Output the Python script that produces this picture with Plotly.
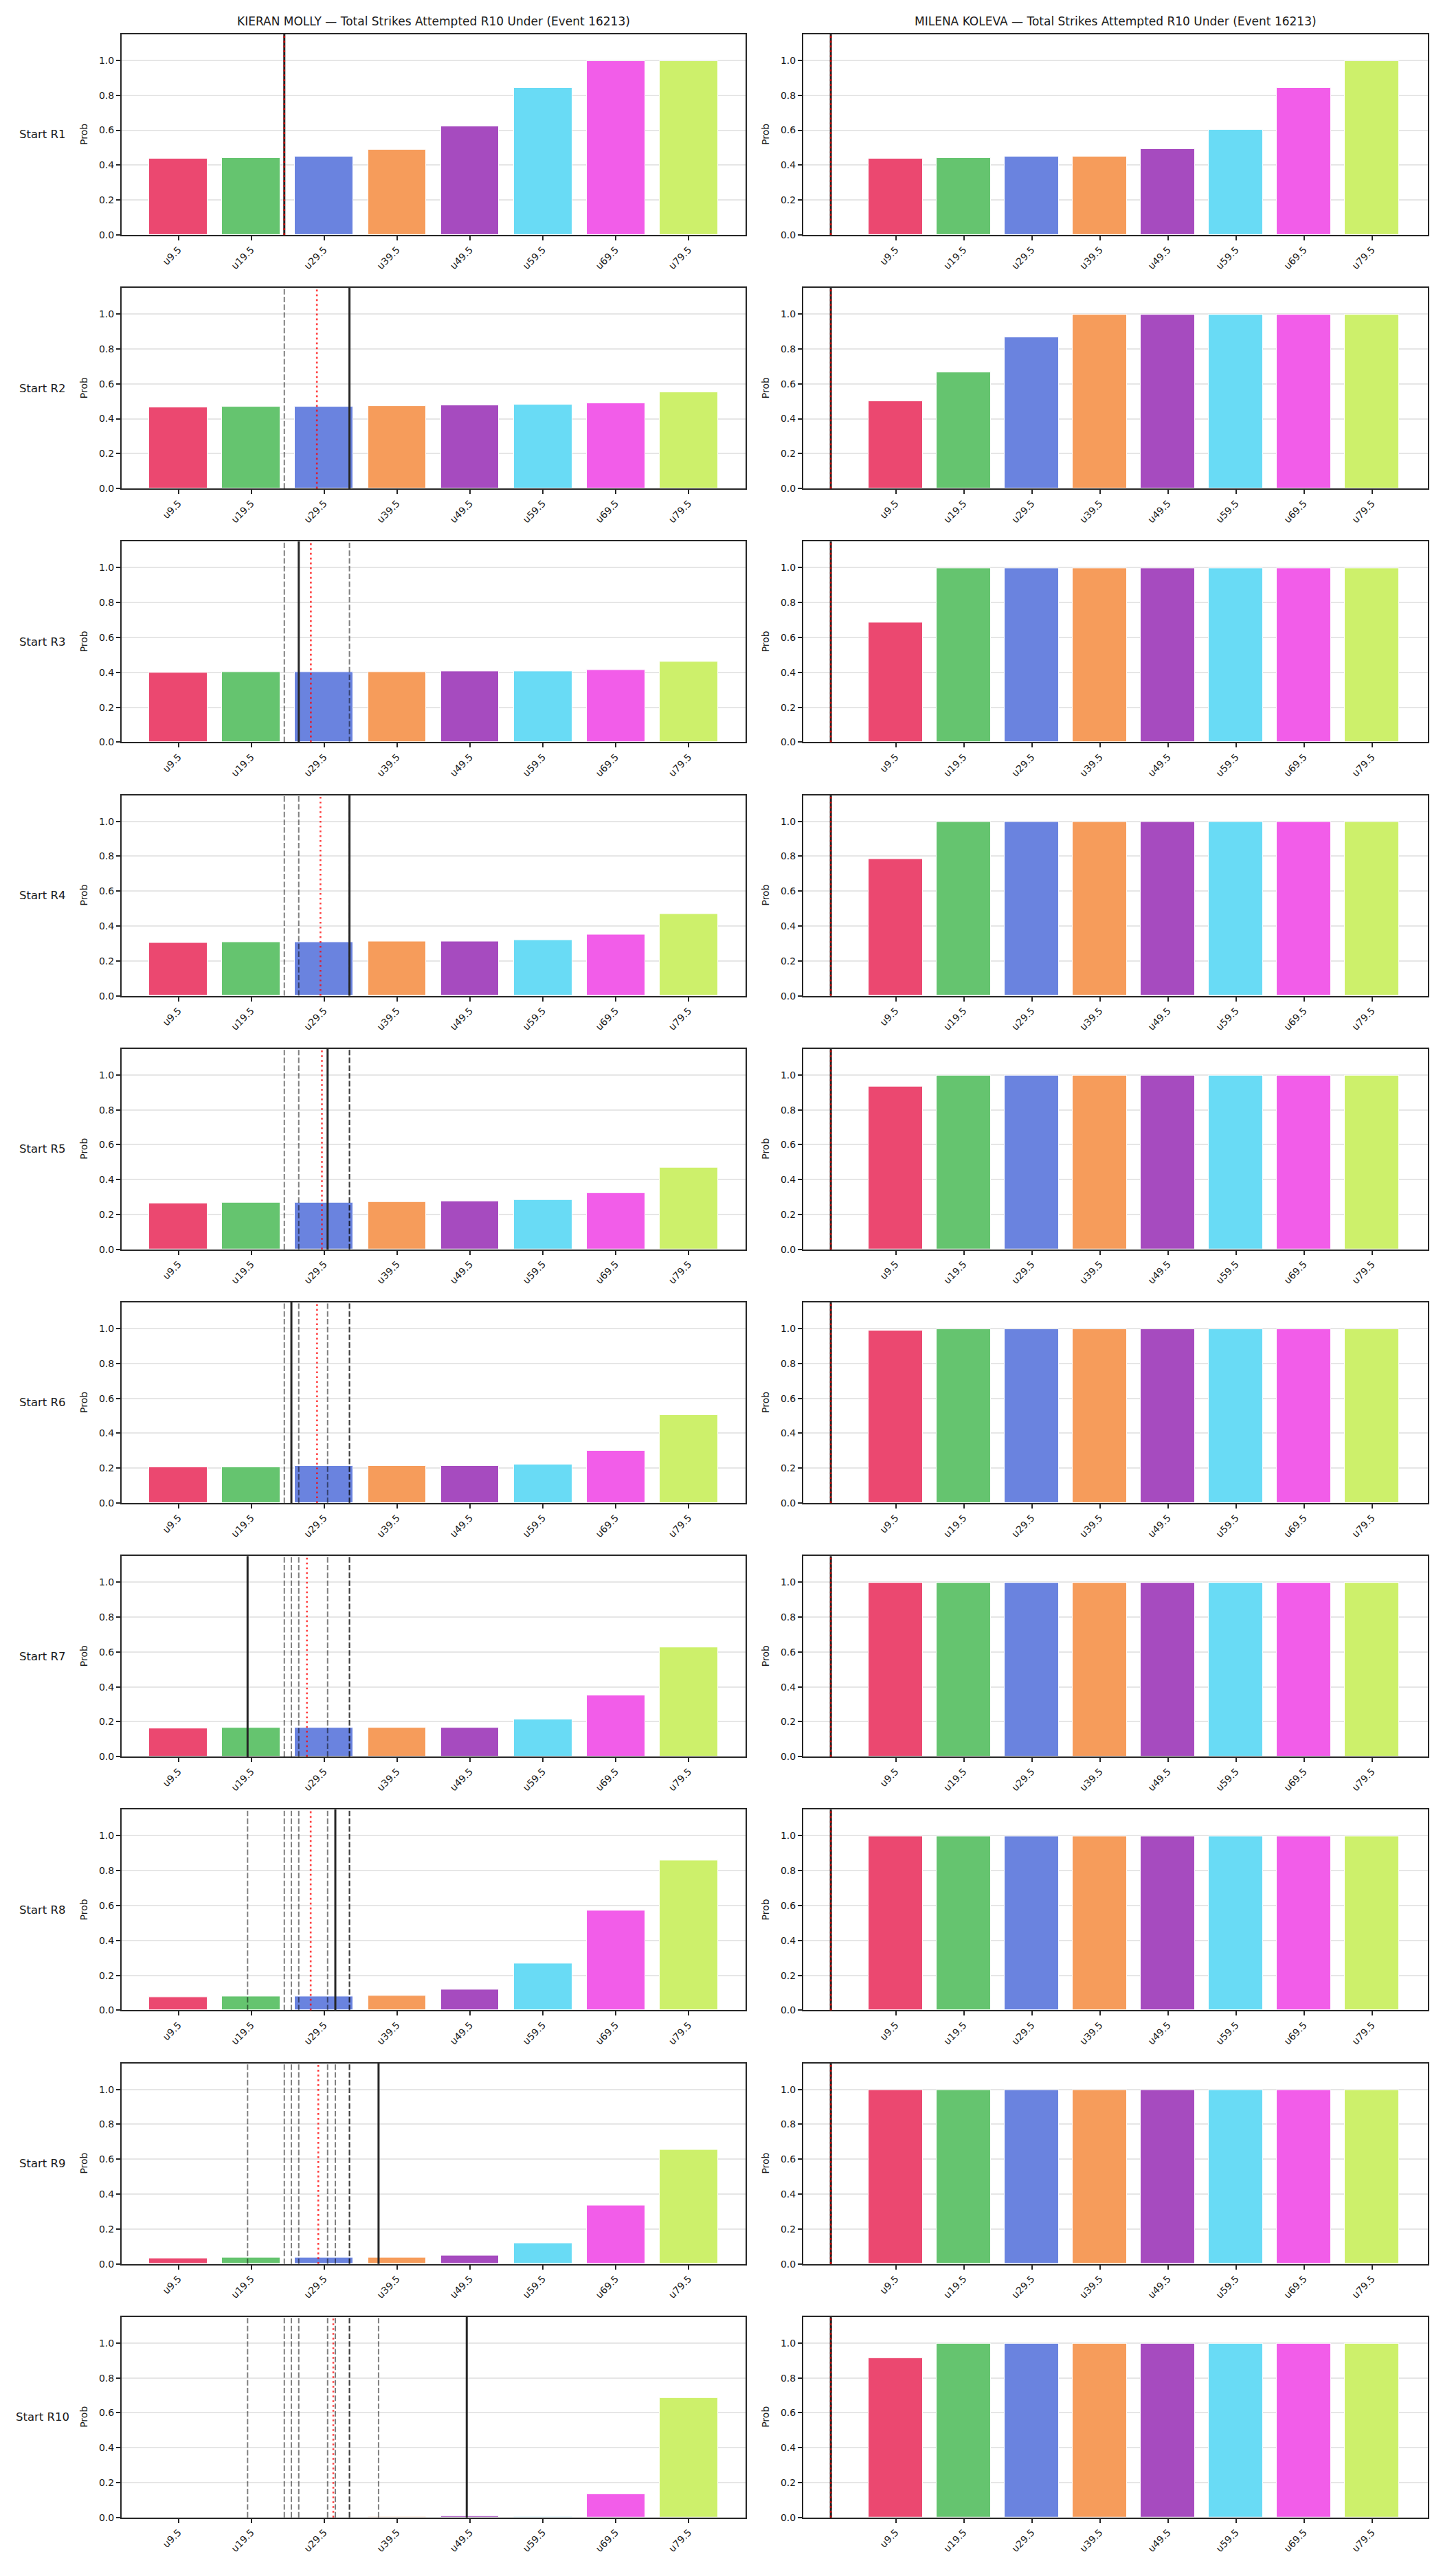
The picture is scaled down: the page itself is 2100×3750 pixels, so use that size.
import plotly.graph_objects as go

W, H = 2100, 3750

categories = ["u9.5", "u19.5", "u29.5", "u39.5", "u49.5", "u59.5", "u69.5", "u79.5"]
bar_colors = ["#EB4870", "#65C46F", "#6A83DF", "#F69C5B", "#A64BBF", "#69DBF5", "#F25DE9", "#CDF06B"]
row_labels = ["Start R%d" % i for i in range(1, 11)]
titles = ["KIERAN MOLLY \u2014 Total Strikes Attempted R10 Under (Event 16213)",
          "MILENA KOLEVA \u2014 Total Strikes Attempted R10 Under (Event 16213)"]
ytick_vals = [0.0, 0.2, 0.4, 0.6, 0.8, 1.0]
ytick_text = ["0.0", "0.2", "0.4", "0.6", "0.8", "1.0"]

# Bar probabilities, one list per start round
molly_probs = [
    [0.439, 0.443, 0.451, 0.490, 0.624, 0.844, 0.997, 0.997],
    [0.465, 0.468, 0.470, 0.472, 0.476, 0.480, 0.490, 0.553],
    [0.398, 0.400, 0.402, 0.403, 0.404, 0.405, 0.413, 0.460],
    [0.305, 0.306, 0.308, 0.310, 0.312, 0.318, 0.350, 0.470],
    [0.265, 0.268, 0.270, 0.272, 0.275, 0.283, 0.325, 0.470],
    [0.207, 0.207, 0.211, 0.211, 0.214, 0.219, 0.298, 0.505],
    [0.161, 0.165, 0.165, 0.165, 0.165, 0.211, 0.351, 0.628],
    [0.075, 0.079, 0.079, 0.082, 0.120, 0.270, 0.570, 0.860],
    [0.030, 0.034, 0.037, 0.037, 0.049, 0.120, 0.336, 0.655],
    [0.0005, 0.001, 0.002, 0.003, 0.0075, 0.006, 0.133, 0.687],
]
koleva_probs = [
    [0.439, 0.443, 0.448, 0.451, 0.494, 0.604, 0.844, 0.997],
    [0.500, 0.665, 0.865, 0.997, 0.997, 0.997, 0.997, 0.997],
    [0.686, 0.997, 0.997, 0.997, 0.997, 0.997, 0.997, 0.997],
    [0.782, 0.997, 0.997, 0.997, 0.997, 0.997, 0.997, 0.997],
    [0.933, 0.997, 0.997, 0.997, 0.997, 0.997, 0.997, 0.997],
    [0.990, 0.997, 0.997, 0.997, 0.997, 0.997, 0.997, 0.997],
    [0.997, 0.997, 0.997, 0.997, 0.997, 0.997, 0.997, 0.997],
    [0.997, 0.997, 0.997, 0.997, 0.997, 0.997, 0.997, 0.997],
    [0.997, 0.997, 0.997, 0.997, 0.997, 0.997, 0.997, 0.997],
    [0.914, 0.997, 0.997, 0.997, 0.997, 0.997, 0.997, 0.997],
]

# Marker line positions (in bar-index units) per start round
molly_lines = [1.452, 2.346, 1.650, 2.346, 2.046, 1.549, 0.948, 2.152, 2.745, 3.955]
molly_means = [1.452, 1.899, 1.816, 1.948, 1.968, 1.901, 1.762, 1.814, 1.918, 2.124]
koleva_lines = [-0.955] * 10
koleva_means = [-0.955] * 10

col_probs = [molly_probs, koleva_probs]
col_lines = [molly_lines, koleva_lines]
col_means = [molly_means, koleva_means]
col_xrange = [[-0.78, 7.78], [-1.36, 7.82]]
col_px = [(177, 1085), (1169, 2078)]

TOP0, PITCH, AX_H = 50, 370, 292.7
INK = "#262626"
FONT = "DejaVu Sans"

fig = go.Figure()
layout = dict(width=W, height=H, margin=dict(l=0, r=0, t=0, b=0),
              paper_bgcolor="white", plot_bgcolor="white", showlegend=False,
              font=dict(family=FONT, color="#1a1a1a", size=14), bargap=0)
shapes, annotations = [], []


def sfx(i):
    return "" if i == 1 else str(i)


for r in range(10):
    top = TOP0 + PITCH * r
    bot = top + AX_H
    yd = [1 - bot / H, 1 - top / H]
    for c in range(2):
        idx = r * 2 + c + 1
        s = sfx(idx)
        xl, xr = col_px[c]
        layout["xaxis" + s] = dict(
            domain=[xl / W, xr / W], anchor="y" + s, range=col_xrange[c],
            tickmode="array", tickvals=list(range(len(categories))), ticktext=categories,
            tickangle=-45, showgrid=False, zeroline=False, showline=True, mirror=True,
            linecolor=INK, linewidth=2, ticks="outside", ticklen=6, tickwidth=2,
            tickcolor=INK, tickfont=dict(size=14, family=FONT, color="#1a1a1a"))
        layout["yaxis" + s] = dict(
            domain=yd, anchor="x" + s, range=[0, 1.15],
            tickmode="array", tickvals=ytick_vals, ticktext=ytick_text,
            showgrid=True, gridcolor="#e6e6e6", gridwidth=1.5, zeroline=False,
            showline=True, mirror=True, linecolor=INK, linewidth=2,
            ticks="outside", ticklen=6, tickwidth=2, tickcolor=INK,
            tickfont=dict(size=14, family=FONT, color="#1a1a1a"))
        fig.add_trace(go.Bar(
            x=list(range(len(categories))), y=col_probs[c][r], width=0.8,
            marker=dict(color=bar_colors, line=dict(color="white", width=1)),
            xaxis="x" + s, yaxis="y" + s, hoverinfo="skip"))
        # previous rounds' lines (dashed)
        for k in range(r):
            v = col_lines[c][k]
            shapes.append(dict(type="line", xref="x" + s, yref="y" + s + " domain",
                               x0=v, x1=v, y0=0, y1=1, layer="above",
                               line=dict(color="rgba(0,0,0,0.5)", width=2, dash="8px,3.3px")))
        v = col_lines[c][r]
        shapes.append(dict(type="line", xref="x" + s, yref="y" + s + " domain",
                           x0=v, x1=v, y0=0, y1=1, layer="above",
                           line=dict(color=INK, width=3)))
        m = col_means[c][r]
        shapes.append(dict(type="line", xref="x" + s, yref="y" + s + " domain",
                           x0=m, x1=m, y0=0, y1=1, layer="above",
                           line=dict(color="rgba(255,0,0,0.75)", width=2.6, dash="2.6px,4.4px")))
        # "Prob" y-label
        annotations.append(dict(text="Prob", xref="paper", yref="paper",
                                x=(xl - 55) / W, y=1 - (top + AX_H / 2) / H,
                                xanchor="center", yanchor="middle", textangle=-90,
                                showarrow=False, font=dict(size=14, family=FONT, color="#1a1a1a")))
    annotations.append(dict(text=row_labels[r], xref="paper", yref="paper",
                            x=62 / W, y=1 - (top + AX_H / 2) / H,
                            xanchor="center", yanchor="middle", showarrow=False,
                            font=dict(size=16.5, family=FONT, color="#1a1a1a")))

for c in range(2):
    xl, xr = col_px[c]
    annotations.append(dict(text=titles[c], xref="paper", yref="paper",
                            x=(xl + xr) / 2 / W, y=1 - 31 / H,
                            xanchor="center", yanchor="middle", showarrow=False,
                            font=dict(size=17, family=FONT, color="#1a1a1a")))

layout["shapes"] = shapes
layout["annotations"] = annotations
fig.update_layout(**layout)
fig.write_html("out.html")
